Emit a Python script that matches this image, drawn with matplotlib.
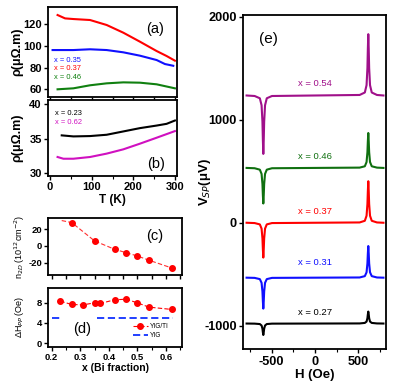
import numpy as np
import matplotlib
matplotlib.use("Agg")
import matplotlib.pyplot as plt
from matplotlib.ticker import MultipleLocator

plt.rcParams['font.family'] = ['Liberation Sans', 'DejaVu Sans']
plt.rcParams['axes.unicode_minus'] = False

# ---------------- data ----------------
# (a) resistivity vs T
T_red = [18, 36, 56, 96, 136, 176, 216, 256, 280, 300]
rho_037 = [128.6, 125.5, 124.9, 124.0, 119.4, 112.3, 104.0, 95.4, 90.8, 86.5]
T_blue = [6, 56, 96, 136, 176, 216, 256, 276, 296]
rho_035 = [96.3, 96.3, 97.0, 96.3, 94.2, 91.1, 87.1, 83.4, 81.8]
T_green = [18, 56, 96, 136, 176, 216, 256, 300]
rho_046 = [60.1, 61.0, 63.8, 65.6, 66.5, 66.2, 64.7, 61.0]

# (b)
T_black = [28, 56, 96, 136, 176, 216, 256, 280, 300]
rho_023 = [35.48, 35.33, 35.38, 35.57, 36.05, 36.53, 36.90, 37.15, 37.63]
T_mag = [18, 32, 56, 96, 136, 176, 216, 256, 300]
rho_062 = [32.35, 32.10, 32.10, 32.35, 32.84, 33.46, 34.28, 35.14, 36.10]

# (c) carrier density
x_n2d = [0.27, 0.35, 0.42, 0.46, 0.50, 0.54, 0.62]
n2d = [27.9, 6.0, -4.0, -8.0, -12.0, -17.0, -26.3]
x_n2d_fit = [0.235, 0.27, 0.35, 0.42, 0.46, 0.50, 0.54, 0.62]
n2d_fit = [30.3, 27.9, 6.0, -4.0, -8.0, -12.0, -17.0, -26.3]

# (d) linewidth
x_dh = [0.23, 0.27, 0.31, 0.35, 0.37, 0.42, 0.46, 0.50, 0.54, 0.62]
dh_tti = [8.33, 7.67, 7.6, 8.0, 7.87, 8.6, 8.72, 8.0, 7.15, 6.69]
dh_err = [0.2, 0.2, 0.2, 0.2, 0.2, 0.2, 0.2, 0.2, 0.2, 0.2]
yig_x = [0.20, 0.235, np.nan, 0.36, 0.625]
yig_y = [5.0, 5.0, np.nan, 5.0, 5.0]

# (e) spin pumping voltage spectra
H = [-790, -697, -637, -617, -607, -602, -597, -592, -587, -577, -557, -497, 0,
     515, 575, 595, 605, 610, 615, 620, 625, 635, 655, 715, 790]
V_054 = [1235, 1230, 1208, 1140, 981, 802, 668, 802, 981, 1140, 1208, 1230, 1235,
         1240, 1264, 1335, 1502, 1690, 1830, 1690, 1502, 1335, 1264, 1240, 1235]
V_046 = [532, 529, 515, 474, 377, 268, 187, 268, 377, 474, 515, 529, 532,
         535, 548, 589, 684, 791, 871, 791, 684, 589, 548, 535, 532]
V_037 = [0, -3, -16, -57, -151, -258, -338, -258, -151, -57, -16, -3, 0,
         3, 19, 68, 181, 308, 403, 308, 181, 68, 19, 3, 0]
V_031 = [-533, -535, -547, -583, -667, -762, -833, -762, -667, -583, -547, -535, -533,
         -531, -518, -481, -395, -298, -226, -298, -395, -481, -518, -531, -533]
V_027 = [-978, -979, -983, -997, -1028, -1063, -1089, -1063, -1028, -997, -983, -979, -978,
         -977, -972, -959, -926, -889, -862, -889, -926, -959, -972, -977, -978]
e_labels = ['x = 0.54', 'x = 0.46', 'x = 0.37', 'x = 0.31', 'x = 0.27']
e_label_y = [1355, 645, 112, -381, -871]

# ---------------- figure ----------------
W, Hpx = 415, 392
fig = plt.figure(figsize=(W / 100, Hpx / 100), dpi=100)


def add_ax(l, r, t, b):
    return fig.add_axes([l / W, 1 - b / Hpx, (r - l) / W, (b - t) / Hpx])


axa = add_ax(48, 177, 7, 97)
axb = add_ax(48, 177, 100, 176)
axc = add_ax(48.3, 181.7, 218.3, 275)
axd = add_ax(48.3, 181.7, 287.7, 346.7)
axe = add_ax(243.3, 385.7, 15, 349.3)

for ax in [axa, axb, axc, axd, axe]:
    for s in ax.spines.values():
        s.set_linewidth(1.3)
    ax.tick_params(direction='out', length=3, width=1.0, pad=1.5)
    ax.tick_params(which='minor', direction='out', length=2, width=0.8)

# (a)
axa.plot(T_red, rho_037, color='#ff0000', lw=1.5)
axa.plot(T_blue, rho_035, color='#1010ff', lw=1.5)
axa.plot(T_green, rho_046, color='#108010', lw=1.5)
axa.set_xlim(-5, 305)
axa.set_ylim(53, 136)
axa.set_yticks([60, 80, 100, 120])
axa.xaxis.set_major_locator(MultipleLocator(50))
axa.set_xticklabels([])
for lab, c, yf in zip(['x = 0.35', 'x = 0.37', 'x = 0.46'],
                      ['#1010ff', '#ff0000', '#108010'], [0.41, 0.32, 0.22]):
    axa.text(0.045, yf, lab, color=c, fontsize=5.4, va='center', transform=axa.transAxes)
axa.text(0.83, 0.75, '(a)', fontsize=10.5, ha='center', va='center', transform=axa.transAxes)
axa.set_ylabel('ρ(μΩ.m)', fontsize=9, fontweight='bold')

# (b)
axb.plot(T_black, rho_023, color='black', lw=1.5)
axb.plot(T_mag, rho_062, color='#d010c0', lw=1.5)
axb.set_xlim(-5, 305)
axb.set_ylim(29.6, 40.6)
axb.set_yticks([30, 35, 40])
axb.set_xticks([0, 100, 200, 300])
axb.xaxis.set_minor_locator(MultipleLocator(50))
axb.text(0.055, 0.82, 'x = 0.23', color='black', fontsize=5.4, va='center', transform=axb.transAxes)
axb.text(0.055, 0.71, 'x = 0.62', color='#d010c0', fontsize=5.4, va='center', transform=axb.transAxes)
axb.text(0.84, 0.16, '(b)', fontsize=10.5, ha='center', va='center', transform=axb.transAxes)
axb.set_ylabel('ρ(μΩ.m)', fontsize=9, fontweight='bold')
axb.set_xlabel('T (K)', fontsize=8.5, fontweight='bold', labelpad=1)

# (c)
axc.plot(x_n2d_fit, n2d_fit, color='#ff3030', lw=0.8, ls=(0, (4, 2)))
axc.plot(x_n2d, n2d, 'o', color='#ff0000', ms=4, mec='#ff0000')
axc.set_xlim(0.188, 0.655)
axc.set_ylim(-34.7, 33)
axc.set_yticks([-20, 0, 20])
axc.xaxis.set_major_locator(MultipleLocator(0.05))
axc.set_xticklabels([])
axc.text(0.8, 0.68, '(c)', fontsize=10.5, ha='center', va='center', transform=axc.transAxes)
axc.set_ylabel('n$_{2D}$ (10$^{12}$cm$^{-2}$)', fontsize=6.5)

# (d)
h1 = axd.errorbar(x_dh, dh_tti, yerr=dh_err, fmt='o', color='#ff0000', ms=4, lw=0.8,
                  ls=(0, (4, 2)), capsize=0)
h2, = axd.plot(yig_x, yig_y, color='#1030ff', lw=1.3, ls=(0, (4, 2)))
axd.set_xlim(0.188, 0.655)
axd.set_ylim(-0.7, 11)
axd.set_yticks([0, 4, 8])
axd.set_xticks([0.2, 0.3, 0.4, 0.5, 0.6])
axd.xaxis.set_minor_locator(MultipleLocator(0.05))
axd.text(0.25, 0.30, '(d)', fontsize=10.5, ha='center', va='center', transform=axd.transAxes)
axd.set_ylabel('ΔH$_{PP}$ (Oe)', fontsize=6.5)
axd.set_xlabel('x (Bi fraction)', fontsize=7.5, fontweight='bold', labelpad=1)
axd.legend([h1, h2], ['YIG/TI', 'YIG'], loc='upper left', bbox_to_anchor=(0.636, 0.40),
           fontsize=4.7, frameon=False, handlelength=2.2, handletextpad=0.4,
           labelspacing=0.35, borderpad=0, borderaxespad=0)

# (e)
e_colors = ['#a0108a', '#107010', '#ff0000', '#1010ff', 'black']
for V, c, lab, ly in zip([V_054, V_046, V_037, V_031, V_027], e_colors, e_labels, e_label_y):
    axe.plot(H, V, color=c, lw=1.5)
    axe.text(0, ly, lab, color=c, fontsize=6.8, ha='center', va='center')
axe.set_xlim(-828, 816)
axe.set_ylim(-1228, 2016)
axe.set_yticks([-1000, 0, 1000, 2000])
axe.set_xticks([-500, 0, 500])
axe.xaxis.set_minor_locator(MultipleLocator(250))
axe.text(-540, 1780, '(e)', fontsize=11, ha='center', va='center')
axe.set_ylabel('V$_{SP}$(μV)', fontsize=9.5, fontweight='bold')
axe.set_xlabel('H (Oe)', fontsize=9.5, fontweight='bold', labelpad=1)

sizes = {axa: 8, axb: 8, axc: 6.8, axd: 6.8, axe: 9.2}
for ax, fs in sizes.items():
    for lab in ax.get_xticklabels() + ax.get_yticklabels():
        lab.set_fontweight('bold')
        lab.set_fontsize(fs)

axa.yaxis.set_label_coords(-25 / 129, 0.5)
axb.yaxis.set_label_coords(-25 / 129, 0.5)
axc.yaxis.set_label_coords(-21 / 133.4, 0.5)
axd.yaxis.set_label_coords(-22 / 133.4, 0.5)
axe.yaxis.set_label_coords(-30 / 142.4, 0.5)

fig.savefig('out.png', dpi=100)
